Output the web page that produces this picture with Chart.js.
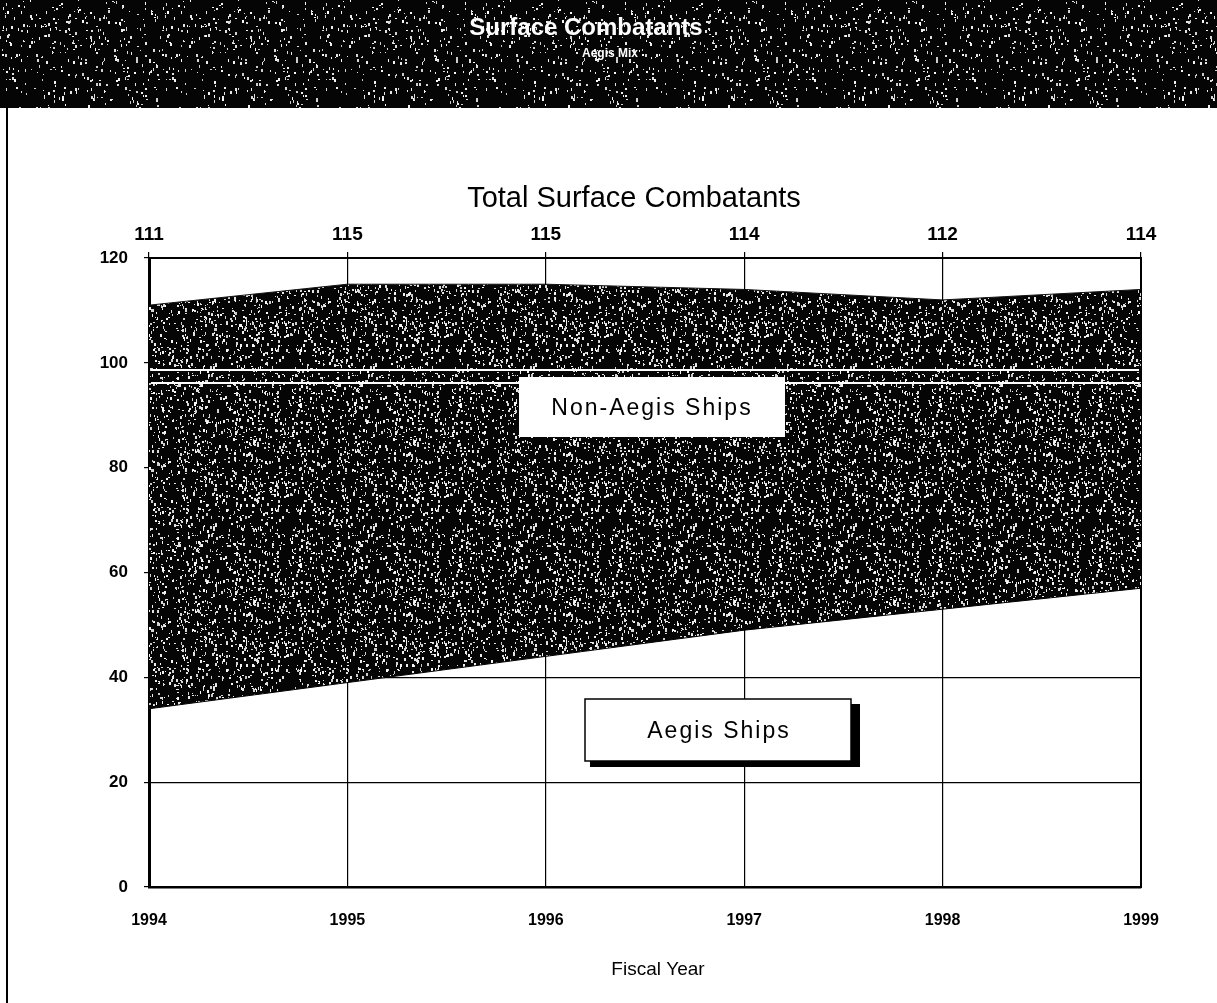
<!DOCTYPE html>
<html>
<head>
<meta charset="utf-8">
<script src="https://cdn.jsdelivr.net/npm/chart.js@4.4.1/dist/chart.umd.min.js"></script>
<style>
  html, body { margin: 0; padding: 0; background: #fff; }
  #wrap { position: relative; width: 1217px; height: 1003px; }
  canvas { display: block; }
</style>
</head>
<body>
<div id="wrap"><canvas id="c" width="1217" height="1003"></canvas></div>
<script>
// ---- data ----
const years = [1994, 1995, 1996, 1997, 1998, 1999];
const totalShips = [111, 115, 115, 114, 112, 114];
const aegisShips = [34, 39, 44, 49, 53, 57];
const topLabels = ['111', '115', '115', '114', '112', '114'];
const yTicks = [0, 20, 40, 60, 80, 100, 120];

// ---- deterministic speckle texture (styling only) ----
function makeSpeckle(size, density, seed) {
  const cv = document.createElement('canvas');
  cv.width = size; cv.height = size;
  const g = cv.getContext('2d');
  g.fillStyle = '#050505';
  g.fillRect(0, 0, size, size);
  let s = seed;
  const rnd = () => { s = (s * 1664525 + 1013904223) % 4294967296; return s / 4294967296; };
  const n = Math.floor(size * size * density);
  for (let i = 0; i < n; i++) {
    const x = Math.floor(rnd() * size), y = Math.floor(rnd() * size);
    const w = 1 + Math.floor(rnd() * 2), h = 1 + Math.floor(rnd() * 3);
    const v = 200 + Math.floor(rnd() * 55);
    g.fillStyle = 'rgb(' + v + ',' + v + ',' + v + ')';
    g.fillRect(x, y, w, h);
  }
  return cv;
}
const ctx0 = document.getElementById('c').getContext('2d');
const areaPattern = ctx0.createPattern(makeSpeckle(160, 0.05, 12345), 'repeat');
const headerPattern = ctx0.createPattern(makeSpeckle(160, 0.02, 777), 'repeat');

const FONT = '"Liberation Sans", Arial, Helvetica, sans-serif';

const decorPlugin = {
  id: 'decor',
  beforeDraw(chart) {
    const c = chart.ctx;
    c.save();
    c.fillStyle = '#fff';
    c.fillRect(0, 0, chart.width, chart.height);
    // header band
    c.fillStyle = headerPattern;
    c.fillRect(0, 0, chart.width, 108);
    c.fillStyle = '#fff';
    c.textAlign = 'center';
    c.textBaseline = 'middle';
    c.font = 'bold 24px ' + FONT;
    c.fillText('Surface Combatants', 586, 28);
    c.font = 'bold 12px ' + FONT;
    c.fillText('Aegis Mix', 610, 54);
    // left page border
    c.fillStyle = '#000';
    c.fillRect(6, 108, 2, chart.height - 108);
    // chart title
    c.fillStyle = '#000';
    c.font = '29px ' + FONT;
    c.fillText('Total Surface Combatants', 634, 199);
    // x axis title
    c.font = '19px ' + FONT;
    c.fillText('Fiscal Year', 658, 970);
    c.restore();
  },
  afterDatasetsDraw(chart) {
    const c = chart.ctx;
    const a = chart.chartArea;
    c.save();
    // light streaks in the texture
    c.strokeStyle = '#fff';
    c.lineWidth = 2;
    [370, 383].forEach(y => {
      c.beginPath(); c.moveTo(a.left + 2, y); c.lineTo(a.right - 2, y); c.stroke();
    });
    // label boxes
    c.font = '23px ' + FONT;
    c.textAlign = 'center';
    c.textBaseline = 'middle';
    try { c.letterSpacing = '2px'; } catch (e) {}
    // Non-Aegis box
    c.fillStyle = '#fff';
    c.fillRect(519, 377, 266, 60);
    c.fillStyle = '#000';
    c.fillText('Non-Aegis Ships', 652, 409);
    // Aegis box with shadow
    c.fillStyle = '#000';
    c.fillRect(590, 704, 270, 63);
    c.fillStyle = '#fff';
    c.fillRect(585, 699, 266, 62);
    c.strokeStyle = '#000';
    c.lineWidth = 1.5;
    c.strokeRect(585, 699, 266, 62);
    c.fillStyle = '#000';
    c.fillText('Aegis Ships', 719, 732);
    c.restore();
  }
};

new Chart(document.getElementById('c'), {
  type: 'line',
  data: {
    datasets: [
      {
        label: 'Aegis Ships',
        data: years.map((y, i) => ({ x: y, y: aegisShips[i] })),
        borderColor: '#000',
        borderWidth: 1,
        pointRadius: 0,
        fill: false,
        tension: 0
      },
      {
        label: 'Non-Aegis Ships',
        data: years.map((y, i) => ({ x: y, y: totalShips[i] })),
        borderColor: '#111',
        borderWidth: 1,
        pointRadius: 0,
        backgroundColor: areaPattern,
        fill: '-1',
        tension: 0
      }
    ]
  },
  options: {
    responsive: false,
    animation: false,
    events: [],
    layout: { padding: { left: 0, right: 76, top: 0, bottom: 0 } },
    plugins: {
      legend: { display: false },
      tooltip: { enabled: false },
      title: { display: false }
    },
    scales: {
      x: {
        type: 'linear',
        position: 'bottom',
        min: 1994, max: 1999,
        afterBuildTicks: s => { s.ticks = years.map(v => ({ value: v })); },
        afterFit: s => { s.height = 116; },
        ticks: {
          color: '#000',
          font: { family: FONT, size: 16, weight: 'bold' },
          padding: 24,
          maxRotation: 0,
          callback: v => String(v)
        },
        grid: { color: '#000', lineWidth: 1.2, drawTicks: false },
        border: { color: '#000', width: 2.5 }
      },
      x2: {
        type: 'linear',
        position: 'top',
        min: 1994, max: 1999,
        afterBuildTicks: s => { s.ticks = years.map(v => ({ value: v })); },
        afterFit: s => { s.height = 258; },
        ticks: {
          color: '#000',
          font: { family: FONT, size: 19, weight: 'bold' },
          padding: 6,
          maxRotation: 0,
          callback: (v) => { const i = years.indexOf(v); return i >= 0 ? topLabels[i] : ''; }
        },
        grid: { drawOnChartArea: false, drawTicks: true, tickLength: 6, color: '#000', lineWidth: 1.2 },
        border: { color: '#000', width: 2 }
      },
      y: {
        min: 0, max: 120,
        afterBuildTicks: s => { s.ticks = yTicks.map(v => ({ value: v })); },
        afterFit: s => { s.width = 149; },
        ticks: {
          color: '#000',
          font: { family: FONT, size: 17, weight: 'bold' },
          padding: 16
        },
        grid: { color: '#000', lineWidth: 1.2, drawTicks: true, tickLength: 5 },
        border: { color: '#000', width: 3 }
      },
      y2: {
        position: 'right',
        min: 0, max: 120,
        afterFit: s => { s.width = 0; },
        ticks: { display: false },
        grid: { display: false },
        border: { color: '#000', width: 2 }
      }
    }
  },
  plugins: [decorPlugin]
});
</script>
</body>
</html>
